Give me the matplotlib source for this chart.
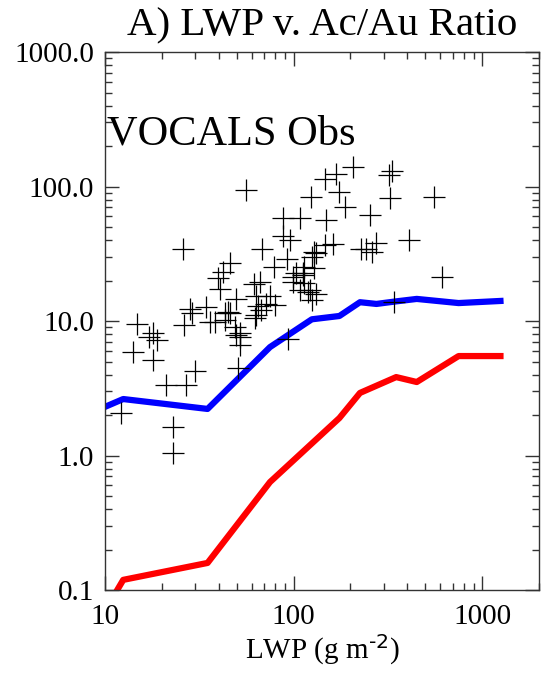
import matplotlib
matplotlib.use("Agg")
import matplotlib.pyplot as plt
from matplotlib.ticker import LogLocator, NullFormatter, FixedLocator, FixedFormatter

plt.rcParams['font.family'] = ['Liberation Serif', 'DejaVu Serif']
plt.rcParams['mathtext.default'] = 'regular'

# VOCALS observations (LWP in g m-2, Ac/Au ratio)
lwp_obs = [56.2, 25.9, 68.3, 87.7, 107.6, 87.7, 95.3, 92.3, 78.3, 46.2,
           42.3, 39.7, 40.9, 61.7, 66.1, 112, 99.1, 107.6, 63.5, 74.6,
           49.8, 34.2, 28.2, 64.7, 206, 333, 319, 168, 146, 174,
           124, 188, 324, 557, 255, 148, 411, 272, 228, 243,
           261, 161, 146, 129, 129, 112, 612, 132, 122, 342,
           126, 114, 99.1, 14.8, 17.1, 18.0, 18.8, 14.0, 17.9, 29.9,
           21.0, 26.8, 12.1, 23.0, 23.0, 50.7, 93.3, 49.3, 52.2, 51.8,
           26.2, 28.8, 35.9, 43.1, 45.8, 63.5, 71.8, 79.3, 48.8, 44.9,
           43.1, 38.2, 62.2, 51.8, 114, 119, 132, 67.5, 103, 126]
ratio_obs = [94.2, 34.5, 34.5, 58.0, 58.0, 42.9, 40.0, 28.8, 25.3, 26.9,
             23.3, 20.8, 17.2, 18.7, 19.4, 22.9, 19.6, 17.0, 15.4, 15.4,
             14.5, 12.8, 12.2, 13.0, 139, 131, 122, 124, 113, 91.5,
             84.0, 70.8, 82.6, 84.0, 61.4, 56.4, 40.0, 38.2, 34.1, 34.1,
             32.7, 37.3, 36.7, 32.7, 24.7, 22.0, 21.3, 15.8, 17.0, 13.9,
             30.1, 25.3, 21.3, 9.5, 7.6, 8.15, 7.2, 5.9, 5.1, 4.25,
             3.34, 3.34, 2.06, 1.64, 1.04, 4.45, 7.3, 7.87, 7.64, 6.63,
             9.33, 11.4, 9.88, 11.4, 11.5, 11.1, 13.4, 13.2, 9.08, 11.7,
             10.2, 9.88, 10.5, 8.1, 19.1, 16.5, 31.9, 12.1, 22.6, 14.3]

# model curves
lwp_blue = [10, 12.5, 35, 75, 125, 175, 225, 275, 350, 450, 750, 1250]
ratio_blue = [2.3, 2.63, 2.22, 6.4, 10.3, 10.9, 13.8, 13.4, 14.0, 14.6, 13.6, 14.1]
lwp_red = [10, 12.5, 35, 75, 175, 225, 350, 450, 750, 1250]
ratio_red = [0.07, 0.119, 0.159, 0.635, 1.9, 2.92, 3.83, 3.52, 5.49, 5.49]

xticks = [10, 100, 1000]
xticklabels = ['10', '100', '1000']
yticks = [0.1, 1, 10, 100, 1000]
yticklabels = ['0.1', '1.0', '10.0', '100.0', '1000.0']

fig = plt.figure(figsize=(5.41, 6.74), dpi=100)
ax = fig.add_axes([0.194, 0.1246, 0.8022, 0.7982])

ax.plot(lwp_blue, ratio_blue, color='#0000ff', lw=4.5, solid_joinstyle='round', zorder=2)
ax.plot(lwp_red, ratio_red, color='#ff0000', lw=4.5, solid_joinstyle='round', zorder=2)
ax.plot(lwp_obs, ratio_obs, '+', color='black', ms=16.5, mew=0.9, zorder=3)

ax.set_xscale('log')
ax.set_yscale('log')
ax.set_xlim(10, 2000)
ax.set_ylim(0.1, 1000)

ax.xaxis.set_major_locator(FixedLocator(xticks))
ax.xaxis.set_major_formatter(FixedFormatter(xticklabels))
ax.yaxis.set_major_locator(FixedLocator(yticks))
ax.yaxis.set_major_formatter(FixedFormatter(yticklabels))
ax.xaxis.set_minor_locator(LogLocator(base=10, subs=range(2, 10)))
ax.yaxis.set_minor_locator(LogLocator(base=10, subs=range(2, 10)))
ax.xaxis.set_minor_formatter(NullFormatter())
ax.yaxis.set_minor_formatter(NullFormatter())

ax.tick_params(which='both', direction='in', top=True, right=True, width=1, color='#333333')
ax.tick_params(which='major', length=10)
ax.tick_params(which='minor', length=5)
ax.tick_params(axis='x', which='major', labelsize=21, pad=10)
ax.tick_params(axis='y', which='major', labelsize=21, pad=8)
for s in ax.spines.values():
    s.set_linewidth(1.0)
    s.set_color('#333333')

ax.set_xlabel(r'LWP (g m$^{\text{-2}}$)', fontsize=21, labelpad=2)
ax.text(0.005, 0.829, 'VOCALS Obs', transform=ax.transAxes, fontsize=30.5, va='baseline', ha='left')
fig.text(322 / 541, 0.948, 'A) LWP v. Ac/Au Ratio', fontsize=29.5, ha='center', va='baseline')

fig.savefig('out.png', dpi=100)
